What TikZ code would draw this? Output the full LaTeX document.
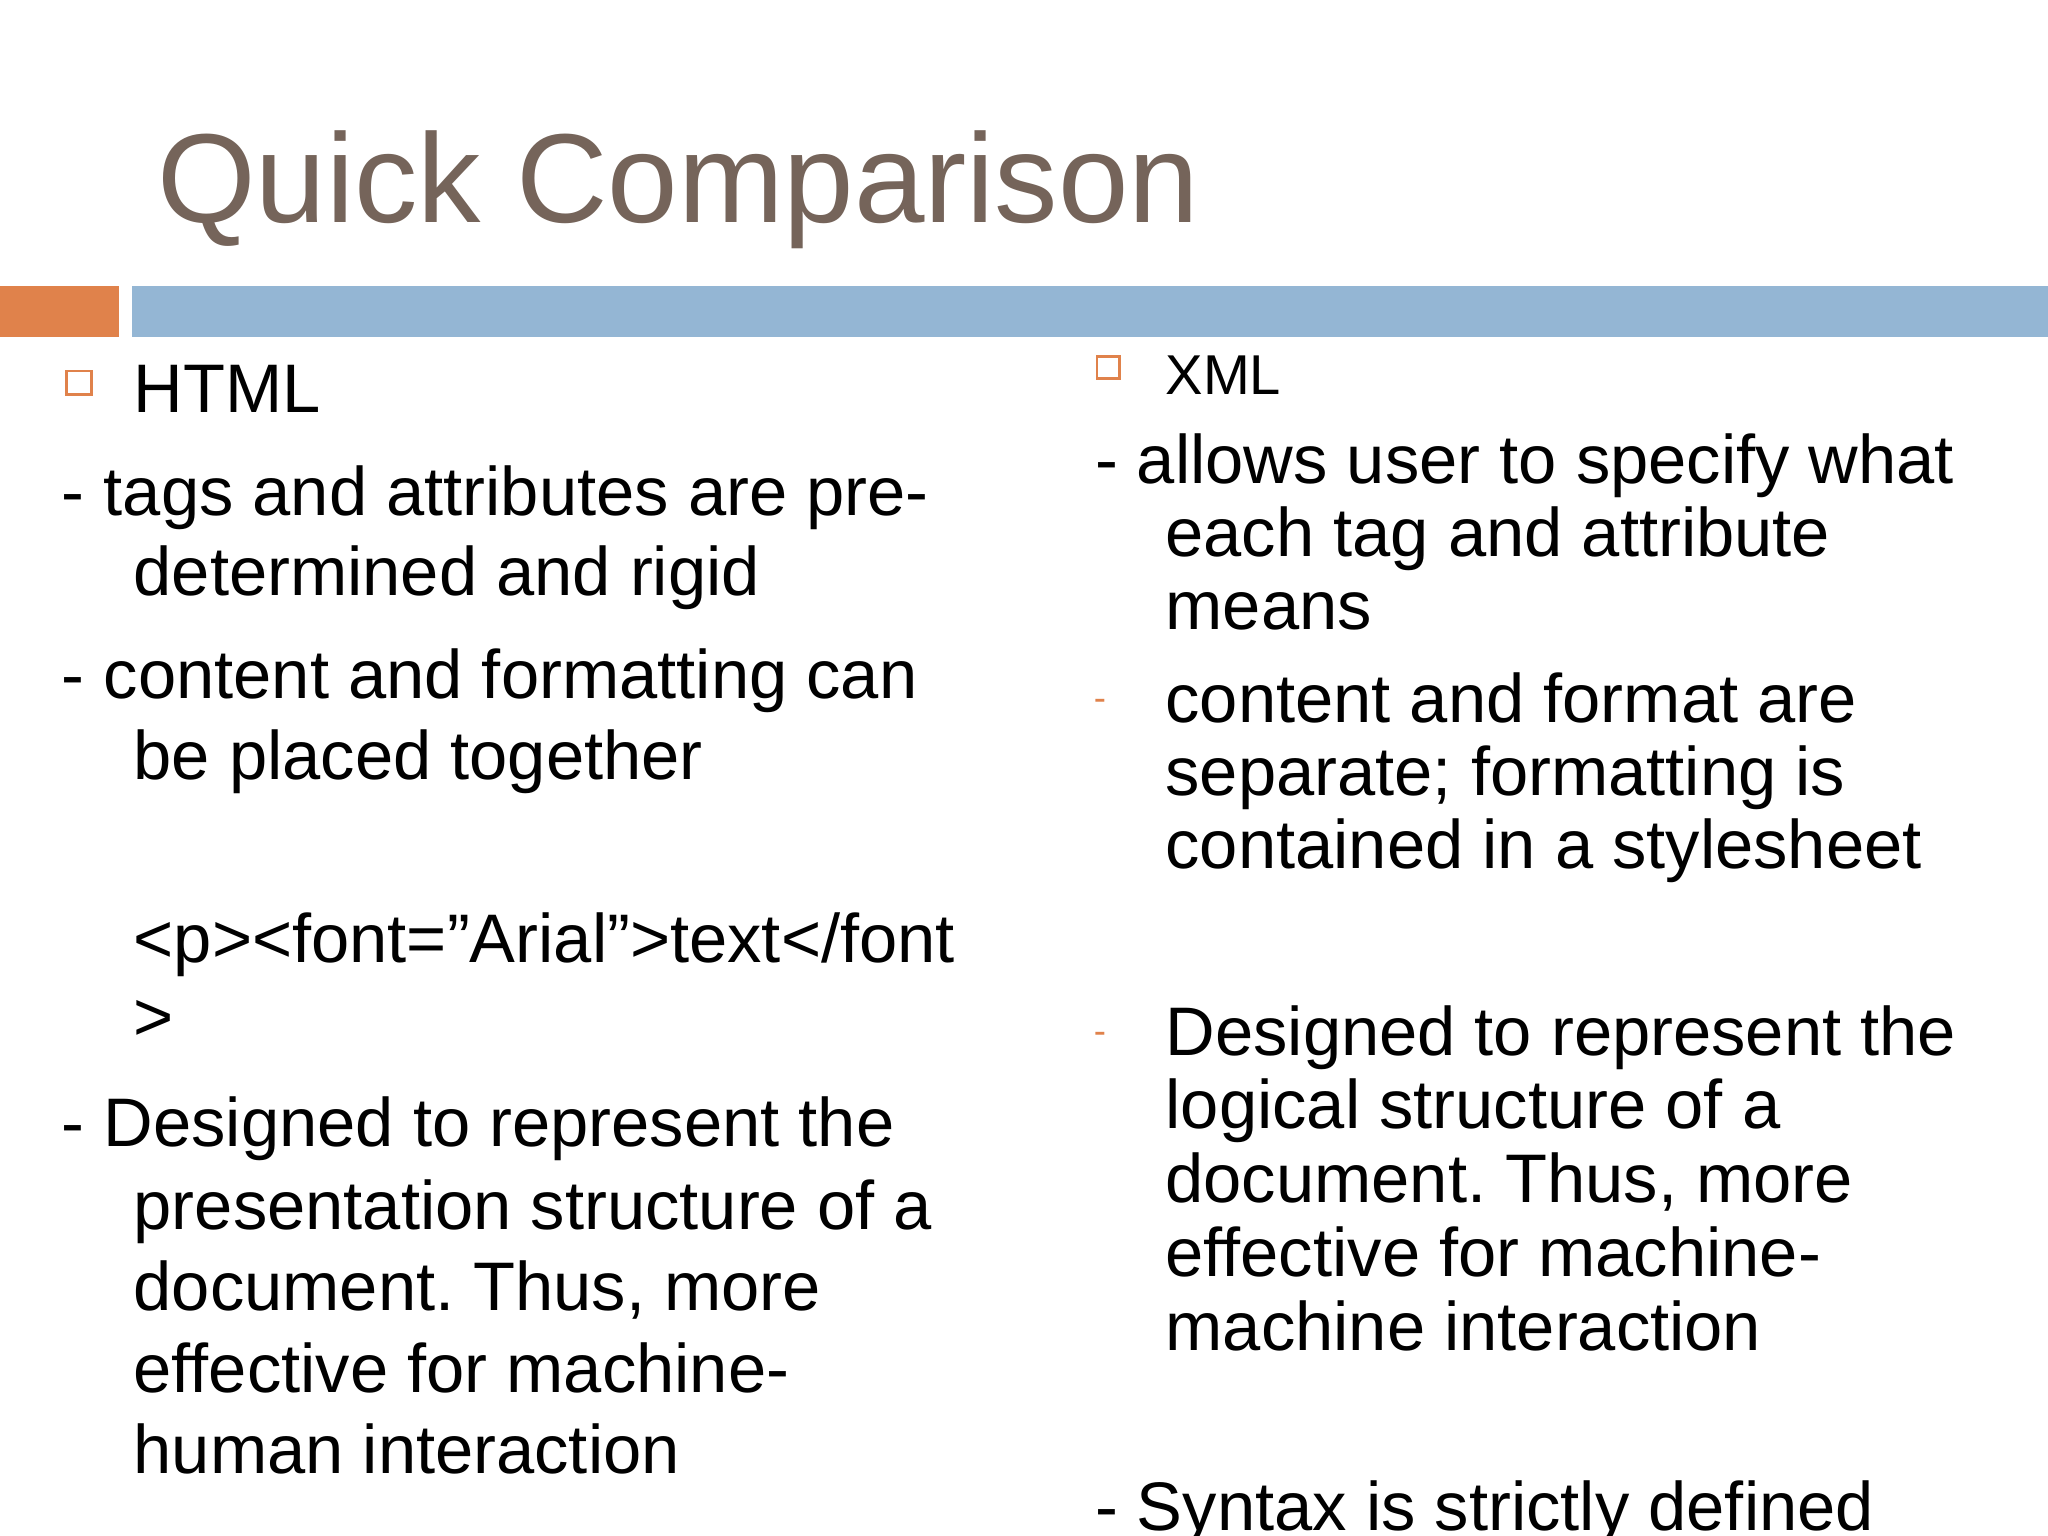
\documentclass[tikz,border=0pt]{standalone}
\usepackage{fontspec}
\setmainfont{Liberation Sans}
\definecolor{titlec}{RGB}{117,100,90}
\definecolor{orng}{RGB}{224,130,75}
\definecolor{blu}{RGB}{148,182,212}
\frenchspacing
\begin{document}
\begin{tikzpicture}[x=0.5pt,y=-0.5pt,
  body/.style={anchor=base west,inner sep=0,font=\fontsize{26.3}{28}\selectfont},
  sq/.style={draw=orng,line width=1pt}]
\useasboundingbox (0,0) rectangle (1568,1176);
\clip (0,0) rectangle (1568,1176);
\fill[white] (0,0) rectangle (1568,1176);
\node[anchor=base west,inner sep=0,text=titlec,font=\fontsize{48.5}{52}\selectfont] (title) at (120,170) {Quick Comparison};
\fill[orng] (0,219) rectangle (91,258);
\fill[blu] (101,219) rectangle (1568,258);
% left
\draw[sq] (51,284) rectangle (70,302);
\node[body] (h) at (102,316) {HTML};
\node[body] (l1) at (47,395) {- tags and attributes are pre-};
\node[body] (l2) at (102,456) {determined and rigid};
\node[body] (l3) at (47,535) {- content and formatting can};
\node[body] (l4) at (102,597) {be placed together};
\node[body] (l5) at (102,737) {<p><font=”Arial”>text</font};
\node[body] (l6) at (102,797) {>};
\node[body] (l7) at (47,878) {- Designed to represent the};
\node[body] (l8) at (102,941) {presentation structure of a};
\node[body] (l9) at (102,1003) {document. Thus, more};
\node[body] (l10) at (102,1066) {effective for machine-};
\node[body] (l11) at (102,1128) {human interaction};
% right
\draw[sq] (840,273) rectangle (857,290);
\node[body,font=\fontsize{21.5}{24}\selectfont] (x) at (892,302) {XML};
\node[body] (r1) at (838,370) {- allows user to specify what};
\node[body] (r2) at (892,426) {each tag and attribute};
\node[body] (r3) at (892,482) {means};
\node[body,text=orng,font=\fontsize{14}{16}\selectfont] (d1) at (837,544) {-};
\node[body] (r4) at (892,553) {content and format are};
\node[body] (r5) at (892,609) {separate; formatting is};
\node[body] (r6) at (892,665) {contained in a stylesheet};
\node[body,text=orng,font=\fontsize{14}{16}\selectfont] (d2) at (837,799) {-};
\node[body] (r7) at (892,808) {Designed to represent the};
\node[body] (r8) at (892,864) {logical structure of a};
\node[body] (r9) at (892,921) {document. Thus, more};
\node[body] (r10) at (892,977) {effective for machine-};
\node[body] (r11) at (892,1034) {machine interaction};
\node[body] (r12) at (838,1172) {- Syntax is strictly defined};
\end{tikzpicture}
\end{document}
